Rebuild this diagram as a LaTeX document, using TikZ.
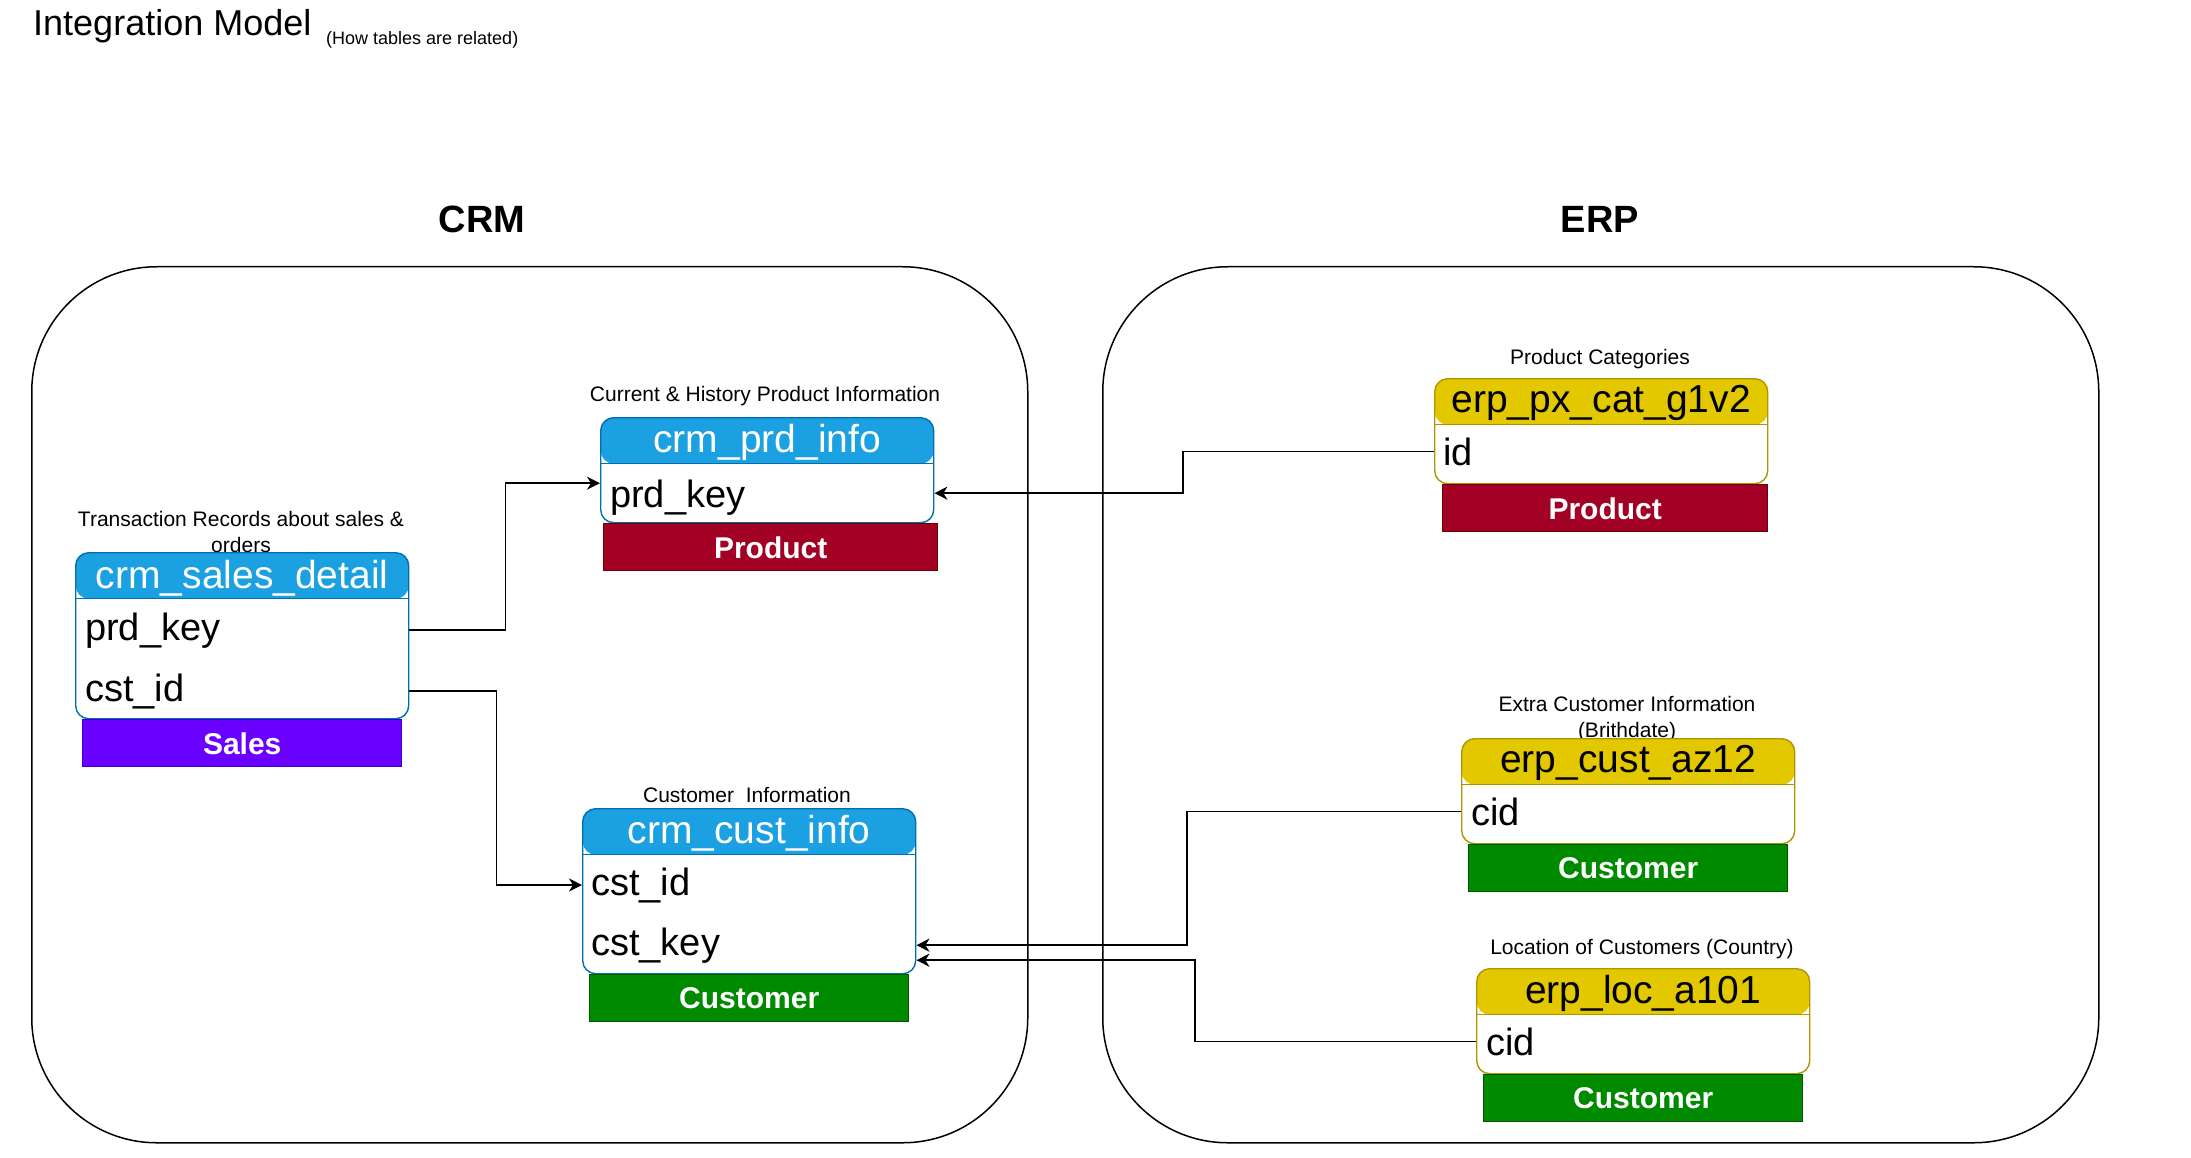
\documentclass[tikz,border=0pt]{standalone}
\usepackage{fontspec}
\setmainfont{Liberation Sans}
\usepackage{xcolor}
\definecolor{hblue}{RGB}{27,161,226}
\definecolor{eblue}{RGB}{0,110,175}
\definecolor{hyel}{RGB}{227,200,0}
\definecolor{eyel}{RGB}{176,149,0}
\definecolor{pred}{RGB}{162,0,37}
\definecolor{epred}{RGB}{111,0,0}
\definecolor{spur}{RGB}{106,0,255}
\definecolor{espur}{RGB}{55,0,204}
\definecolor{cgreen}{RGB}{0,138,0}
\definecolor{ecgreen}{RGB}{0,87,0}
\usepackage{tikz}
\usetikzlibrary{arrows.meta,positioning,calc}

\begin{document}
\begin{tikzpicture}[x=1pt,y=-1pt,
  zone/.style={draw,line width=1.5pt,rounded corners=125pt,minimum width=996pt,minimum height=876pt,anchor=north west,inner sep=0pt},
  grouplbl/.style={font=\fontsize{38}{46}\selectfont\bfseries,anchor=base,inner sep=0pt},
  dbtab/.style 2 args={draw=#2,fill=white,line width=1.4pt,rounded corners=13pt,minimum width=333pt,anchor=north west,inner sep=0pt,
    path picture={\fill[#1] (path picture bounding box.north west) rectangle ([yshift=-46pt]path picture bounding box.north east);
      \draw[#2,line width=1.4pt] ([yshift=-46pt]path picture bounding box.north west) -- ([yshift=-46pt]path picture bounding box.north east);}},
  crmtab/.style={dbtab={hblue}{eblue}},
  erptab/.style={dbtab={hyel}{eyel}},
  crmtitle/.style={font=\fontsize{39}{47}\selectfont,text=white,anchor=base,inner sep=0pt},
  erptitle/.style={font=\fontsize{39}{47}\selectfont,anchor=base,inner sep=0pt},
  field/.style={font=\fontsize{38}{46}\selectfont,anchor=base west,inner sep=0pt},
  notelbl/.style={font=\fontsize{21}{26}\selectfont,align=center,inner sep=0pt},
  unitbar/.style 2 args={fill=#1,draw=#2,line width=1pt,minimum width=319pt,minimum height=47pt,anchor=north,inner sep=0pt,
    text=white,font=\fontsize{30}{36}\selectfont\bfseries},
  salesbar/.style={unitbar={spur}{espur}},
  prodbar/.style={unitbar={pred}{epred}},
  custbar/.style={unitbar={cgreen}{ecgreen}},
  link/.style={line width=1.6pt,-{Stealth[length=13pt,width=13pt,inset=4pt]}}]
  \useasboundingbox (0,0) rectangle (2191,1158);

  \node[anchor=base west,inner sep=0pt,font=\fontsize{36}{43}\selectfont] (title) at (33,36) {Integration Model};
  \node[anchor=base west,inner sep=0pt,font=\fontsize{18}{22}\selectfont] (subtitle) at (326,45) {(How tables are related)};

  \node[zone] (crm) at (31,266) {};
  \node[zone] (erp) at (1102,266) {};
  \node[grouplbl] (crm-lbl) at (482,233) {CRM};
  \node[grouplbl] (erp-lbl) at (1600,233) {ERP};

  \node[notelbl] (sd-note) at (241,532) {Transaction Records about sales \&\\orders};
  \node[crmtab,minimum height=166pt] (sd) at (75,552) {};
  \node[crmtitle] (sd-t) at ([yshift=-36pt]sd.north) {crm\_sales\_detail};
  \node[field] (sd-prd) at (85,640) {prd\_key};
  \node[field] (sd-cst) at (85,701) {cst\_id};
  \node[salesbar] (sd-bar) at (sd.south) {Sales};

  \node[notelbl,anchor=base] (pi-note) at (765,401) {Current \& History Product Information};
  \node[crmtab,minimum height=105pt] (pi) at (600,417) {};
  \node[crmtitle] (pi-t) at ([yshift=-35pt]pi.north) {crm\_prd\_info};
  \node[field] (pi-prd) at (610,507) {prd\_key};
  \node[prodbar,minimum width=334pt] (pi-bar) at ([xshift=3.5pt]pi.south) {Product};

  \node[notelbl,anchor=base] (ci-note) at (747,802) {Customer\ \ Information};
  \node[crmtab,minimum height=165pt] (ci) at (582,808) {};
  \node[crmtitle] (ci-t) at ([yshift=-35pt]ci.north) {crm\_cust\_info};
  \node[field] (ci-id) at (591,895) {cst\_id};
  \node[field] (ci-key) at (591,955) {cst\_key};
  \node[custbar] (ci-bar) at (ci.south) {Customer};

  \node[notelbl,anchor=base] (pc-note) at (1600,364) {Product Categories};
  \node[erptab,minimum height=105pt] (pc) at (1434,378) {};
  \node[erptitle] (pc-t) at ([yshift=-34pt]pc.north) {erp\_px\_cat\_g1v2};
  \node[field] (pc-id) at (1443,465) {id};
  \node[prodbar,minimum width=325pt] (pc-bar) at ([xshift=4pt]pc.south) {Product};

  \node[notelbl] (ca-note) at (1627,719) {Extra Customer Information\\(Brithdate)};
  \node[erptab,minimum height=105pt] (ca) at (1461,738) {};
  \node[erptitle] (ca-t) at ([yshift=-34pt]ca.north) {erp\_cust\_az12};
  \node[field] (ca-cid) at (1471,825) {cid};
  \node[custbar] (ca-bar) at (ca.south) {Customer};

  \node[notelbl,anchor=base] (lc-note) at (1642,954) {Location of Customers (Country)};
  \node[erptab,minimum height=105pt] (lc) at (1476,968) {};
  \node[erptitle] (lc-t) at ([yshift=-35pt]lc.north) {erp\_loc\_a101};
  \node[field] (lc-cid) at (1486,1055) {cid};
  \node[custbar] (lc-bar) at (lc.south) {Customer};

  \draw[link] (sd.east |- sd-prd) -- ++(96,0) |- ($(pi.west |- pi-prd)+(0,-14)$);
  \draw[link] (sd.east |- sd-cst) -- ++(87,0) |- (ci.west |- ci-id);
  \draw[link] (pc.west |- pc-id) -- ++(-251,0) |- ($(pi.east |- pi-prd)+(0,-4)$);
  \draw[link] (ca.west |- ca-cid) -- ++(-274,0) |- (ci.east |- ci-key);
  \draw[link] (lc.west |- lc-cid) -- ++(-281,0) |- ($(ci.east |- ci-key)+(0,15)$);
\end{tikzpicture}
\end{document}
